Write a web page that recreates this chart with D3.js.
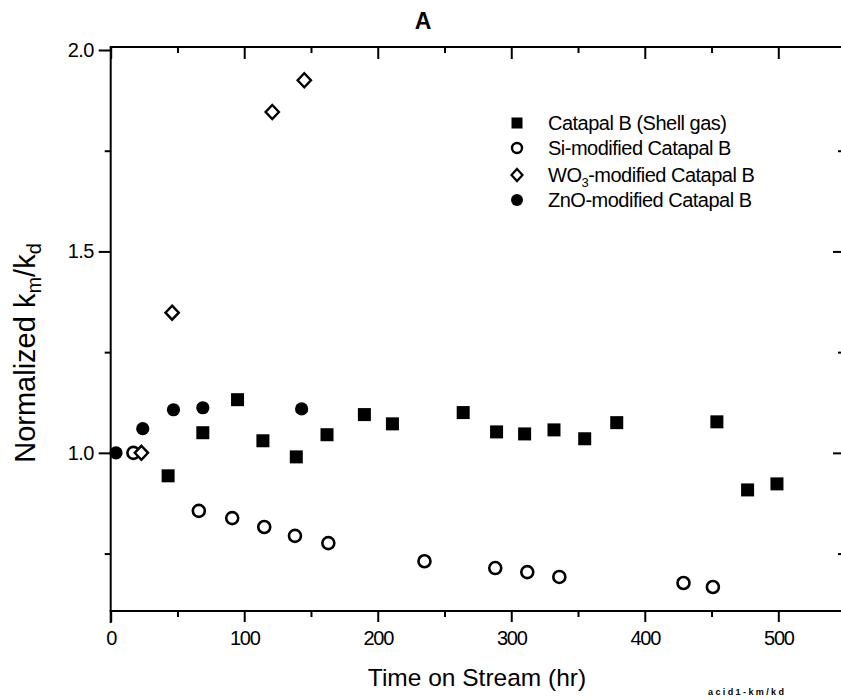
<!DOCTYPE html>
<html><head><meta charset="utf-8">
<script src="https://cdn.jsdelivr.net/npm/d3@7"></script>
<style>body{margin:0;background:#fff} svg{display:block}</style>
</head><body>
<script>
// ---- data ----
const catapalX = [43,69,95,114,139,162,190,211,264,289,310,332,355,379,454,477,499];
const catapalY = [0.943,1.050,1.132,1.030,0.990,1.045,1.095,1.072,1.100,1.052,1.047,1.057,1.035,1.075,1.077,0.908,0.923];
const siX = [17,66,91,115,138,163,235,288,312,336,429,451];
const siY = [1.0,0.856,0.838,0.816,0.794,0.776,0.731,0.714,0.704,0.692,0.677,0.667];
const wo3X = [23,46,121,145];
const wo3Y = [1.0,1.348,1.846,1.925];
const znoX = [4,24,47,69,143];
const znoY = [1.0,1.060,1.107,1.112,1.109];
const xTicks = [0,100,200,300,400,500];
const xMinor = [50,150,250,350,450];
const yTicks = [1.0,1.5,2.0];
const yMinor = [0.75,1.25,1.75];
const seriesNames = ["Catapal B (Shell gas)","Si-modified Catapal B","WO3-modified Catapal B","ZnO-modified Catapal B"];

(function () {
const W = 841, H = 700;
const font = "'Liberation Sans', Arial, Helvetica, sans-serif";
const svg = d3.select("body").append("svg").attr("width", W).attr("height", H)
  .style("font-family", font);

const x = d3.scaleLinear().domain([0, 500]).range([110.7, 778.3]);
const y = d3.scaleLinear().domain([0.6, 2.0]).range([614, 50]);
const pLeft = x(0), pRight = 841, pTop = 47, pBottom = 611;

// frame lines
const g = svg.append("g").attr("stroke", "#000").attr("stroke-width", 2).attr("fill", "none");
g.append("line").attr("x1", pLeft).attr("x2", pLeft).attr("y1", pTop).attr("y2", pBottom + 12);
g.append("line").attr("x1", pLeft - 1).attr("x2", pRight).attr("y1", pBottom).attr("y2", pBottom);
g.append("line").attr("x1", pLeft - 1).attr("x2", pRight).attr("y1", pTop).attr("y2", pTop);

function styleAxis(sel) {
  sel.select(".domain").remove();
  sel.selectAll(".tick line").attr("stroke-width", 2).attr("stroke", "#000");
}

// bottom axis (outward ticks)
const xbG = svg.append("g").attr("transform", `translate(0,${pBottom})`)
  .call(d3.axisBottom(x).tickValues(xTicks).tickSize(11).tickFormat(d3.format("d")));
styleAxis(xbG);
xbG.selectAll(".tick text").attr("font-size", 20).attr("font-family", font).attr("fill", "#000")
  .attr("dy", "1.0em").attr("letter-spacing", -1.3);
styleAxis(svg.append("g").attr("transform", `translate(0,${pBottom})`)
  .call(d3.axisBottom(x).tickValues(xMinor).tickSize(6).tickFormat("")));

// top axis (inward ticks)
styleAxis(svg.append("g").attr("transform", `translate(0,${pTop})`)
  .call(d3.axisTop(x).tickValues(xTicks).tickSize(-12).tickFormat("")));
styleAxis(svg.append("g").attr("transform", `translate(0,${pTop})`)
  .call(d3.axisTop(x).tickValues(xMinor).tickSize(-6).tickFormat("")));

// left axis (outward ticks)
const ylG = svg.append("g").attr("transform", `translate(${pLeft},0)`)
  .call(d3.axisLeft(y).tickValues(yTicks).tickSize(12).tickFormat(d3.format(".1f")));
styleAxis(ylG);
ylG.selectAll(".tick text").attr("font-size", 20).attr("font-family", font).attr("fill", "#000")
  .attr("x", -17).attr("letter-spacing", -0.6);
styleAxis(svg.append("g").attr("transform", `translate(${pLeft},0)`)
  .call(d3.axisLeft(y).tickValues(yMinor).tickSize(6).tickFormat("")));

// right axis ticks (inward, axis line off-image)
styleAxis(svg.append("g").attr("transform", `translate(${pRight},0)`)
  .call(d3.axisRight(y).tickValues(yTicks.filter(v => v < 2)).tickSize(-8).tickFormat("")));
styleAxis(svg.append("g").attr("transform", `translate(${pRight},0)`)
  .call(d3.axisRight(y).tickValues(yMinor).tickSize(-3).tickFormat("")));

// titles
svg.append("text").attr("x", 423).attr("y", 29).attr("text-anchor", "middle")
  .attr("font-size", 23).attr("font-weight", "bold").text("A");
svg.append("text").attr("x", 477).attr("y", 686).attr("text-anchor", "middle")
  .attr("font-size", 24.5).text("Time on Stream (hr)");
const yt = svg.append("text").attr("transform", "translate(35,353) rotate(-90)")
  .attr("text-anchor", "middle").attr("font-size", 29);
yt.append("tspan").text("Normalized k");
yt.append("tspan").attr("font-size", 20).attr("dy", 6).text("m");
yt.append("tspan").attr("dy", -6).text("/k");
yt.append("tspan").attr("font-size", 20).attr("dy", 6).text("d");
svg.append("text").attr("x", 708).attr("y", 695).attr("text-anchor", "start")
  .attr("font-size", 9).attr("font-weight", "bold").attr("letter-spacing", 2.4).text("acid1-km/kd");

// markers
const sq = 13, rc = 6.6, ro = 6.0, dd = 7;
function drawSeries(xs, ys, kind, gSel) {
  const pts = xs.map((v, i) => [x(v), y(ys[i])]);
  if (kind === "square") {
    gSel.selectAll("rect").data(pts).join("rect")
      .attr("x", d => d[0] - sq / 2).attr("y", d => d[1] - sq / 2)
      .attr("width", sq).attr("height", sq).attr("fill", "#000");
  } else if (kind === "open") {
    gSel.selectAll("circle").data(pts).join("circle")
      .attr("cx", d => d[0]).attr("cy", d => d[1]).attr("r", ro)
      .attr("fill", "#fff").attr("stroke", "#000").attr("stroke-width", 2.6);
  } else if (kind === "diamond") {
    gSel.selectAll("path").data(pts).join("path")
      .attr("d", d => `M${d[0]},${d[1] - dd}L${d[0] + dd * 0.95},${d[1]}L${d[0]},${d[1] + dd}L${d[0] - dd * 0.95},${d[1]}Z`)
      .attr("fill", "#fff").attr("stroke", "#000").attr("stroke-width", 2.4);
  } else {
    gSel.selectAll("circle").data(pts).join("circle")
      .attr("cx", d => d[0]).attr("cy", d => d[1]).attr("r", rc).attr("fill", "#000");
  }
}
const kinds = ["square", "open", "diamond", "filled"];
drawSeries(catapalX, catapalY, "square", svg.append("g"));
drawSeries(siX, siY, "open", svg.append("g"));
drawSeries(wo3X, wo3Y, "diamond", svg.append("g"));
drawSeries(znoX, znoY, "filled", svg.append("g"));

// legend
const legY = [123, 148, 175, 200];
const lg = svg.append("g");
seriesNames.forEach((name, i) => {
  const mx = 517, my = legY[i];
  const gi = lg.append("g");
  if (kinds[i] === "square") gi.append("rect").attr("x", mx - 5.5).attr("y", my - 5.5).attr("width", 11).attr("height", 11).attr("fill", "#000");
  else if (kinds[i] === "open") gi.append("circle").attr("cx", mx).attr("cy", my).attr("r", 5).attr("fill", "#fff").attr("stroke", "#000").attr("stroke-width", 2.4);
  else if (kinds[i] === "diamond") gi.append("path").attr("d", `M${mx},${my - 6}L${mx + 5.5},${my}L${mx},${my + 6}L${mx - 5.5},${my}Z`).attr("fill", "#fff").attr("stroke", "#000").attr("stroke-width", 2.2);
  else gi.append("circle").attr("cx", mx).attr("cy", my).attr("r", 6).attr("fill", "#000");
  const t = gi.append("text").attr("x", 548).attr("y", my + 7).attr("font-size", 20).attr("letter-spacing", -0.5);
  if (name.startsWith("WO3")) {
    t.append("tspan").text("WO");
    t.append("tspan").attr("font-size", 13).attr("dy", 5).text("3");
    t.append("tspan").attr("dy", -5).text(name.slice(3));
  } else t.text(name);
});
})();
</script>
</body></html>
